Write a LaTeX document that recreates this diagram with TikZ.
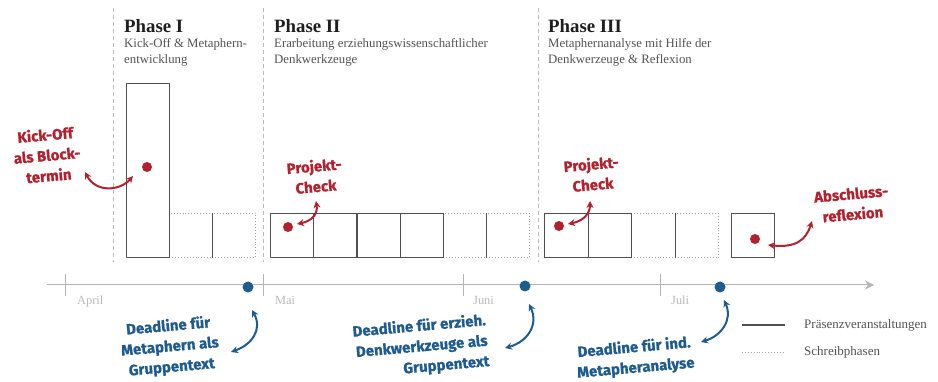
\documentclass[tikz,border=0pt]{standalone}
\usepackage{fontspec}
\setmainfont{Liberation Serif}
\newfontfamily\handfont{Fira Sans}[BoldFeatures={FakeBold=0.8}]
\usetikzlibrary{arrows.meta}
\definecolor{redc}{HTML}{B3202E}
\definecolor{bluec}{HTML}{1E5B8E}
\definecolor{boxc}{HTML}{505050}
\definecolor{axisc}{HTML}{B4B4B4}
\tikzset{
  sepline/.style={draw=gray!55, dash pattern=on 4pt off 3pt, line width=0.8pt},
  pres/.style={rectangle, draw=boxc, line width=1.1pt, inner sep=0, anchor=north west},
  schreib/.style={rectangle, draw=gray!75, dotted, line width=0.9pt, inner sep=0, anchor=north west},
  divider/.style={draw=boxc, line width=1pt},
  heading/.style={anchor=base west, inner sep=0, font=\fontsize{18.8}{20}\selectfont\bfseries, text=black!88},
  subtxt/.style={anchor=north west, align=left, inner sep=0, font=\fontsize{12.8}{15.5}\selectfont, text=black!68},
  month/.style={anchor=base west, inner sep=0, font=\fontsize{12.4}{13}\selectfont, text=gray!55},
  legtxt/.style={anchor=west, inner sep=0, font=\fontsize{13}{14}\selectfont, text=black!68},
  hand/.style={font=\handfont\bfseries\fontsize{15}{20.5}\selectfont, align=center, rotate=5, inner sep=0},
  dotr/.style={circle, fill=redc, minimum size=10pt, inner sep=0},
  dotb/.style={circle, fill=bluec, minimum size=11pt, inner sep=0},
  arr/.style={line width=2pt, {Stealth[length=7pt,width=7pt]}-{Stealth[length=7pt,width=7pt]}},
  axis/.style={draw=axisc, line width=1pt},
}
\begin{document}
\begin{tikzpicture}[x=1pt, y=-1pt]
\useasboundingbox (0,0) rectangle (938,382);
% phase separators
\foreach \n/\x in {s1/113, s2/263, s3/538} {
  \coordinate (\n top) at (\x,8);
  \coordinate (\n bot) at (\x,262);
  \draw[sepline] (\n top) -- (\n bot);
}
% headings
\node[heading] (h1) at (124,33) {Phase I};
\node[heading] (h2) at (274,33) {Phase II};
\node[heading] (h3) at (548,33) {Phase III};
\node[subtxt] (st1) at (124,38.5) {Kick-Off \& Metaphern-\\entwicklung};
\node[subtxt] (st2) at (274,38.5) {Erarbeitung erziehungswissenschaftlicher\\Denkwerkzeuge};
\node[subtxt] (st3) at (548,38.5) {Metaphernanalyse mit Hilfe der\\Denkwerzeuge \& Reflexion};
% Phase I boxes
\node[schreib, minimum width=43pt, minimum height=44pt] (p1b) at (169,213) {};
\node[schreib, minimum width=43pt, minimum height=44pt] (p1c) at (212,213) {};
\node[pres, minimum width=43pt, minimum height=174pt] (p1a) at (126,83) {};
\draw[divider] (p1b.north east) -- (p1b.south east);
% Phase II boxes
\node[schreib, minimum width=43.2pt, minimum height=44pt] (p2e) at (442.8,213) {};
\node[schreib, minimum width=43.2pt, minimum height=44pt] (p2f) at (486,213) {};
\node[pres, minimum width=43.2pt, minimum height=44pt] (p2a) at (270,213) {};
\node[pres, minimum width=43.2pt, minimum height=44pt] (p2b) at (313.2,213) {};
\node[pres, minimum width=43.2pt, minimum height=44pt] (p2c) at (356.4,213) {};
\node[pres, minimum width=43.2pt, minimum height=44pt] (p2d) at (399.6,213) {};
\draw[divider] (p2e.north east) -- (p2e.south east);
% Phase III boxes
\node[schreib, minimum width=43.5pt, minimum height=44pt] (p3c) at (631,213) {};
\node[schreib, minimum width=43.5pt, minimum height=44pt] (p3d) at (674.5,213) {};
\node[pres, minimum width=43.5pt, minimum height=44pt] (p3a) at (544,213) {};
\node[pres, minimum width=43.5pt, minimum height=44pt] (p3b) at (587.5,213) {};
\draw[divider] (p3c.north east) -- (p3c.south east);
\node[pres, minimum width=43pt, minimum height=44pt] (p3e) at (731,213) {};
% timeline
\coordinate (t0) at (47,285);
\coordinate (t1) at (874,285);
\draw[axis, -{Stealth[length=9pt,width=9pt]}] (t0) -- (t1);
\foreach \n/\x in {ta/65, tb/263, tc/463, td/660} {
  \coordinate (\n top) at (\x,274);
  \coordinate (\n bot) at (\x,296);
  \draw[axis] (\n top) -- (\n bot);
}
\node[month] (m1) at (77,305) {April};
\node[month] (m2) at (275,305) {Mai};
\node[month] (m3) at (473,305) {Juni};
\node[month] (m4) at (671,305) {Juli};
% red dots and labels
\node[dotr] (r1) at (147,167) {};
\node[dotr] (r2) at (288,227) {};
\node[dotr] (r3) at (559,226) {};
\node[dotr] (r4) at (755,239) {};
\node[hand, text=redc] (l1) at (47,155) {Kick-Off\\als Block-\\termin};
\node[hand, text=redc] (l2) at (315,176) {Projekt-\\Check};
\node[hand, text=redc] (l3) at (592,174) {Projekt-\\Check};
\node[hand, text=redc] (l4) at (852,204) {Abschluss-\\reflexion};
\coordinate (a1s) at (85,172);  \coordinate (a1e) at (133,176);
\coordinate (a2s) at (297,224); \coordinate (a2e) at (316,201);
\coordinate (a3s) at (568,224); \coordinate (a3e) at (590,201);
\coordinate (a4s) at (768,245); \coordinate (a4e) at (812,221);
\draw[arr, redc] (a1s) .. controls (96,193) and (120,191) .. (a1e);
\draw[arr, redc] (a2s) .. controls (312,221) and (318,214) .. (a2e);
\draw[arr, redc] (a3s) .. controls (583,221) and (590,214) .. (a3e);
\draw[arr, redc] (a4s) .. controls (796,248) and (806,240) .. (a4e);
% blue dots and labels
\node[dotb] (b1) at (248,287) {};
\node[dotb] (b2) at (525,286) {};
\node[dotb] (b3) at (720,287) {};
\node[hand, text=bluec] (d1) at (170,347) {Deadline für\\Metaphern als\\Gruppentext};
\node[hand, text=bluec, align=right] (d2) at (421,347) {Deadline für erzieh.\\Denkwerkzeuge als\\Gruppentext};
\node[hand, text=bluec] (d3) at (635,358) {Deadline für ind.\\Metapheranalyse};
\coordinate (b1s) at (252,310); \coordinate (b1e) at (231,352);
\coordinate (b2s) at (529,304); \coordinate (b2e) at (505,348);
\coordinate (b3s) at (724,300); \coordinate (b3e) at (701,342);
\draw[arr, bluec] (b1s) .. controls (263,330) and (251,345) .. (b1e);
\draw[arr, bluec] (b2s) .. controls (539,325) and (527,342) .. (b2e);
\draw[arr, bluec] (b3s) .. controls (733,320) and (721,336) .. (b3e);
% legend
\coordinate (lg1a) at (742,325); \coordinate (lg1b) at (785,325);
\coordinate (lg2a) at (742,352); \coordinate (lg2b) at (785,352);
\draw[divider, line width=1.2pt] (lg1a) -- (lg1b);
\draw[draw=gray!70, dotted, line width=0.9pt] (lg2a) -- (lg2b);
\node[legtxt] (lt1) at (804,325) {Präsenzveranstaltungen};
\node[legtxt] (lt2) at (804,352) {Schreibphasen};
\end{tikzpicture}
\end{document}
